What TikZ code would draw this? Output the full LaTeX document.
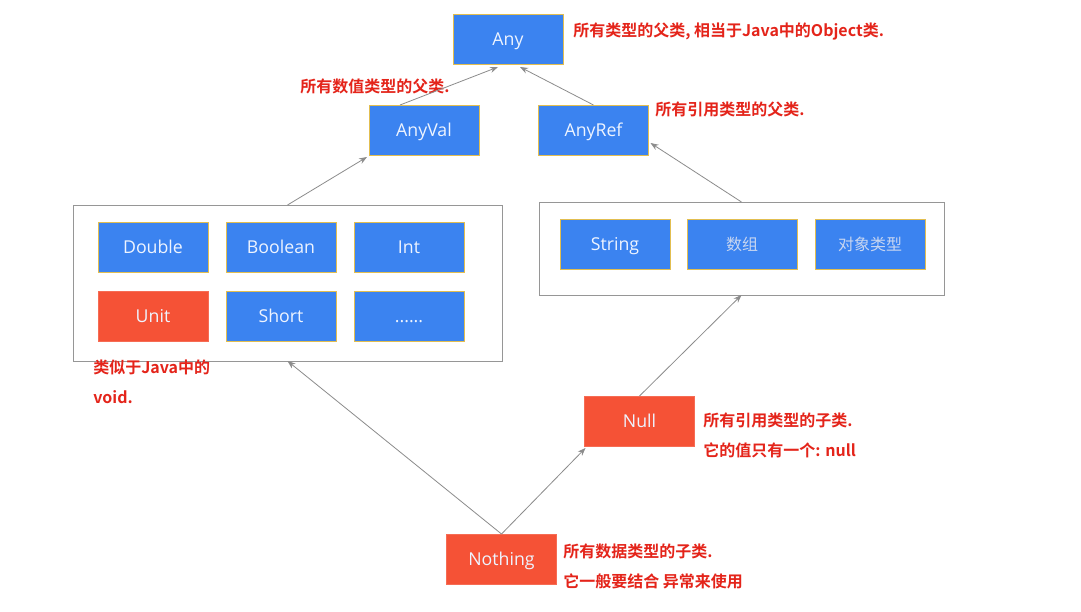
\documentclass[tikz,border=0pt]{standalone}
\usepackage{fontspec}
\setmainfont{Open Sans}
\newfontfamily\cjk{Noto Sans CJK SC}[BoldFont={Noto Sans CJK SC Bold}]
\usetikzlibrary{arrows.meta,calc}
\definecolor{boxblue}{RGB}{59,131,240}
\definecolor{boxred}{RGB}{245,82,54}
\definecolor{lblred}{RGB}{228,36,26}
\definecolor{boxline}{RGB}{226,190,80}
\definecolor{boxtext}{RGB}{238,244,255}
\definecolor{fadetext}{RGB}{200,214,240}
\definecolor{contline}{RGB}{150,150,150}
\definecolor{arrgray}{RGB}{140,140,140}
\begin{document}
\begin{tikzpicture}[x=0.75pt,y=-0.75pt,
  bluebox/.style={draw=boxline,line width=0.6pt,fill=boxblue,text=boxtext,
    minimum width=82.5pt,minimum height=37.5pt,inner sep=0pt,outer sep=0pt,
    text height=9.5pt,text depth=0pt,
    font=\fontsize{13.3}{15}\selectfont},
  redbox/.style={bluebox,draw=boxred!85!white,fill=boxred},
  cont/.style={draw=contline,line width=0.7pt,fill=none,inner sep=0pt,outer sep=0pt},
  lbl/.style={anchor=west,text=lblred,inner sep=0pt,font=\cjk\bfseries\fontsize{12}{14}\selectfont},
  arr/.style={draw=arrgray,line width=0.6pt,-{Stealth[length=6pt,width=4.5pt]}}]
\useasboundingbox[fill=white] (0,0) rectangle (1081,611);

% containers
\node[cont,minimum width=321.75pt,minimum height=117pt] (lc) at (287.5,283) {};
\node[cont,minimum width=303.75pt,minimum height=69.75pt] (rc) at (741.5,248.5) {};

% top boxes
\node[bluebox] (any) at (508,39) {Any};
\node[bluebox] (av) at (424,130) {AnyVal};
\node[bluebox] (ar) at (593.5,130) {AnyRef};

% value types
\node[bluebox] (dbl) at (153,247) {Double};
\node[bluebox] (bool) at (281,247) {Boolean};
\node[bluebox] (int) at (409,247) {Int};
\node[redbox] (unit) at (153,316) {Unit};
\node[bluebox] (short) at (281,316) {Short};
\node[bluebox] (more) at (409,316) {......};

% reference types
\node[bluebox] (str) at (615,244) {String};
\node[bluebox,text=fadetext,font=\cjk\fontsize{12}{14}\selectfont] (arr) at (742,244) {数组};
\node[bluebox,text=fadetext,font=\cjk\fontsize{12}{14}\selectfont] (obj) at (870,244) {对象类型};

% bottom types
\node[redbox] (null) at (639.5,421) {Null};
\node[redbox] (nothing) at (501.5,559) {Nothing};

% labels
\node[lbl] (lany) at (573,32) {所有类型的父类, 相当于Java中的Object类.};
\node[lbl] (lav) at (300,86) {所有数值类型的父类.};
\node[lbl] (lar) at (655,109) {所有引用类型的父类.};
\node[lbl] (lunit1) at (93,367) {类似于Java中的};
\node[lbl] (lunit2) at (93,397) {void.};
\node[lbl] (lnull1) at (703,420) {所有引用类型的子类.};
\node[lbl] (lnull2) at (703,450) {它的值只有一个: null};
\node[lbl] (lnoth1) at (563,551) {所有数据类型的子类.};
\node[lbl] (lnoth2) at (563,581) {它一般要结合 异常来使用};

% connectors
\draw[arr] ($(av.north)+(-24,0)$) -- ($(any.south)+(-10,3)$);
\draw[arr] (ar.north) -- ($(any.south)+(12,3)$);
\draw[arr] (lc.north) -- ($(av.south west)+(-2,2)$);
\draw[arr] (rc.north) -- ($(ar.east)+(2,13)$);
\draw[arr] (null.north) -- (rc.south);
\draw[arr] (nothing.north) -- (lc.south);
\draw[arr] (nothing.north) -- ($(null.south west)+(1,2)$);
\end{tikzpicture}
\end{document}
